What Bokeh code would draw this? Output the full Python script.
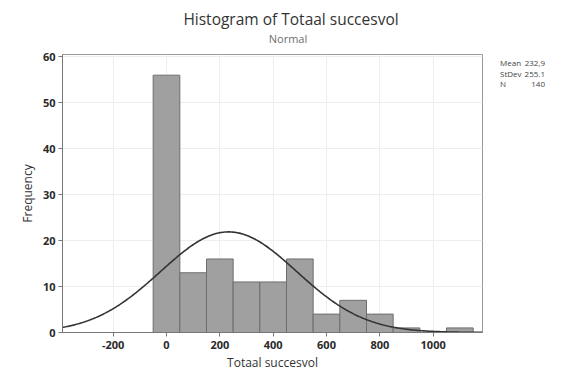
import numpy as np
from bokeh.plotting import figure
from bokeh.models import Range1d, FixedTicker, Div
from bokeh.layouts import column, row
from bokeh.embed import file_html
from bokeh.resources import INLINE

# Data
bin_centers = [0, 100, 200, 300, 400, 500, 600, 700, 800, 900, 1000, 1100]
counts = [56, 13, 16, 11, 11, 16, 4, 7, 4, 1, 0, 1]
bin_width = 100
mean = 232.9
stdev = 255.1
n_obs = 140
x_ticks = [-200, 0, 200, 400, 600, 800, 1000]
y_ticks = [0, 10, 20, 30, 40, 50, 60]
stat_names = ["Mean", "StDev", "N"]
stat_values = ["232,9", "255.1", "140"]
title_text = "Histogram of Totaal succesvol"
subtitle_text = "Normal"

XMIN, XMAX = -390, 1185
YMIN, YMAX = 0, 60.5
FONT = "Open Sans"

# ---- title block ----
title_html = (
    f'<div style="position:relative;width:570px;height:46px;font-family:\'{FONT}\';">'
    f'<div style="position:absolute;left:12px;right:0;top:12px;text-align:center;'
    f'font-size:15.5px;line-height:15px;color:#333333;white-space:nowrap;">{title_text}</div>'
    f'<div style="position:absolute;left:6px;right:0;top:32.5px;text-align:center;'
    f'font-size:11px;line-height:11px;color:#6e6e6e;">{subtitle_text}</div>'
    f'</div>'
)
title_div = Div(text=title_html, width=570, height=46, margin=0)

# ---- main plot ----
p = figure(width=488, height=337, output_backend="svg", toolbar_location=None,
           x_range=Range1d(XMIN, XMAX), y_range=Range1d(YMIN, YMAX),
           min_border_left=62, min_border_right=6, min_border_top=8, min_border_bottom=51,
           margin=0)
p.background_fill_color = "white"
p.border_fill_color = "white"
p.outline_line_color = "#9a9a9a"
p.outline_line_width = 1

p.xgrid.ticker = FixedTicker(ticks=x_ticks)
p.ygrid.ticker = FixedTicker(ticks=y_ticks)
p.xgrid.grid_line_color = "#eeeeee"
p.ygrid.grid_line_color = "#eeeeee"

for ax in (p.xaxis[0], p.yaxis[0]):
    ax.axis_line_color = "#777777"
    ax.major_tick_line_color = "#777777"
    ax.minor_tick_line_color = None
    ax.major_tick_out = 4
    ax.major_tick_in = 0
    ax.major_label_text_font = FONT
    ax.major_label_text_font_size = "11px"
    ax.major_label_text_font_style = "bold"
    ax.major_label_text_color = "#2a2a2a"
    ax.axis_label_text_font = FONT
    ax.axis_label_text_font_size = "12px"
    ax.axis_label_text_font_style = "normal"
    ax.axis_label_text_color = "#333333"
p.xaxis.ticker = FixedTicker(ticks=x_ticks)
p.yaxis.ticker = FixedTicker(ticks=y_ticks)
p.xaxis.major_label_overrides = {-200: "-200"}
p.xaxis.axis_label = "Totaal succesvol"
p.yaxis.axis_label = "Frequency"
p.xaxis.axis_label_standoff = 2
p.yaxis.axis_label_standoff = 4
p.xaxis.major_label_standoff = 4
p.yaxis.major_label_standoff = 3

p.vbar(x=bin_centers, top=counts, width=bin_width, bottom=0,
       fill_color="#a0a0a0", line_color="#6e6e6e", line_width=1)

xs = np.linspace(XMIN, XMAX, 400)
ys = n_obs * bin_width / (stdev * np.sqrt(2 * np.pi)) * np.exp(-0.5 * ((xs - mean) / stdev) ** 2)
p.line(xs, ys, line_color="#333333", line_width=1.6)

# ---- statistics block ----
rows_html = "".join(
    f'<div style="display:flex;justify-content:space-between;height:10.5px;line-height:10.5px;">'
    f'<span>{n}</span><span>{v}</span></div>'
    for n, v in zip(stat_names, stat_values)
)
stats_html = (
    f'<div style="position:relative;width:82px;height:337px;font-family:\'{FONT}\';'
    f'font-size:8px;color:#444444;">'
    f'<div style="position:absolute;left:12px;top:12px;width:45px;">{rows_html}</div></div>'
)
stats_div = Div(text=stats_html, width=82, height=337, margin=0)

layout = column(title_div, row(p, stats_div, spacing=0), spacing=0)
open("out.html", "w").write(file_html(layout, INLINE))
